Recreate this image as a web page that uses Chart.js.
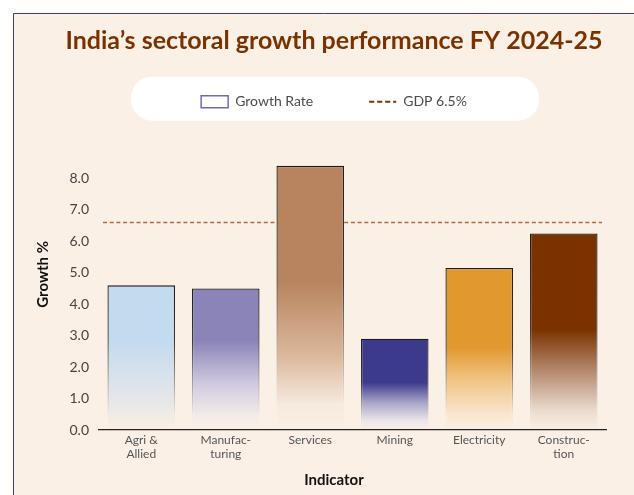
<!DOCTYPE html>
<html>
<head>
<meta charset="utf-8">
<title>India's sectoral growth performance FY 2024-25</title>
<script src="https://cdn.jsdelivr.net/npm/chart.js@4.4.1/dist/chart.umd.min.js"></script>
<style>
  html, body { margin: 0; padding: 0; background: #ffffff; }
  #wrap { width: 634px; height: 495px; }
</style>
</head>
<body>
<div id="wrap"><canvas id="sectorChart" width="634" height="495"></canvas></div>
<script>
// Veriler
const sectors = [['Agri &', 'Allied'], ['Manufac-', 'turing'], 'Services', 'Mining', 'Electricity', ['Construc-', 'tion']];
const growthRate = [4.6, 4.5, 8.4, 2.9, 5.15, 6.25];
const gdpGrowth = 6.6;
const yTicks = [0, 1, 2, 3, 4, 5, 6, 7, 8];
const titleText = 'India’s sectoral growth performance FY 2024-25';
const legendLabels = ['Growth Rate', 'GDP 6.5%'];

// Renkler
const PANEL_BG = '#fbf0e5';
const FONT = 'Lato, "Open Sans", sans-serif';
const barShades = [
    { solid: '#c4daef', fadeAt: 0.38, mid: '#e3e6ea', midAt: 0.76, pale: '#efebe6' },
    { solid: '#8b84b9', fadeAt: 0.37, mid: '#d2cbe0', midAt: 0.68, pale: '#f3ece9' },
    { solid: '#b8845f', fadeAt: 0.44, mid: '#dbb89c', midAt: 0.72, pale: '#f6e9de' },
    { solid: '#3c3b8b', fadeAt: 0.48, mid: '#a9a5c9', midAt: 0.7, pale: '#ece6ea' },
    { solid: '#e1982f', fadeAt: 0.49, mid: '#f0c27f', midAt: 0.68, pale: '#f9e6ce' },
    { solid: '#7a3300', fadeAt: 0.49, mid: '#a87556', midAt: 0.65, pale: '#eadbcd' }
];

// Çubuk dolgusu: üstte düz renk, tabana doğru solar
function barFill(context) {
    const shade = barShades[context.dataIndex];
    const chart = context.chart;
    const yScale = chart.scales.y;
    if (!chart.chartArea || !yScale || !context.parsed) return shade.solid;
    const top = yScale.getPixelForValue(context.parsed.y);
    const base = yScale.getPixelForValue(0);
    const g = chart.ctx.createLinearGradient(0, top, 0, base);
    g.addColorStop(0, shade.solid);
    g.addColorStop(shade.fadeAt, shade.solid);
    g.addColorStop(shade.midAt, shade.mid);
    g.addColorStop(0.9, shade.pale);
    g.addColorStop(1, PANEL_BG);
    return g;
}

function barEdge(context) {
    const shade = barShades[context.dataIndex];
    const chart = context.chart;
    const yScale = chart.scales.y;
    if (!chart.chartArea || !yScale || !context.parsed) return '#222';
    const top = yScale.getPixelForValue(context.parsed.y);
    const base = yScale.getPixelForValue(0);
    const g = chart.ctx.createLinearGradient(0, top, 0, base);
    g.addColorStop(0, '#1c1c1c');
    g.addColorStop(shade.fadeAt, '#3a3a3a');
    g.addColorStop(0.9, shade.pale);
    g.addColorStop(1, PANEL_BG);
    return g;
}

// Arka plan paneli ve lejant kutusu
const panelPlugin = {
    id: 'panel',
    beforeDraw(chart) {
        const { ctx, width, height } = chart;
        ctx.save();
        ctx.fillStyle = '#ffffff';
        ctx.fillRect(0, 0, width, height);
        ctx.fillStyle = PANEL_BG;
        ctx.fillRect(13, 13, width - 13, height - 13);
        ctx.strokeStyle = '#3d3d8e';
        ctx.lineWidth = 1;
        ctx.beginPath();
        ctx.moveTo(13.5, height);
        ctx.lineTo(13.5, 13.5);
        ctx.lineTo(width, 13.5);
        ctx.stroke();

        const boxes = chart.legend && chart.legend.legendHitBoxes;
        if (boxes && boxes.length) {
            const first = boxes[0];
            const last = boxes[boxes.length - 1];
            const x0 = first.left - 70;
            const x1 = last.left + last.width + 72;
            const y0 = first.top - 18;
            const y1 = first.top + first.height + 12;
            ctx.fillStyle = '#ffffff';
            ctx.beginPath();
            ctx.roundRect(x0, y0, x1 - x0, y1 - y0, 21);
            ctx.fill();
        }
        ctx.restore();
    }
};

const ctx = document.getElementById('sectorChart');
new Chart(ctx, {
    type: 'bar',
    data: {
        labels: sectors,
        datasets: [
            {
                label: legendLabels[0],
                data: growthRate,
                backgroundColor: barFill,
                borderColor: barEdge,
                borderWidth: { top: 1.3, left: 1.3, right: 1.3, bottom: 0 },
                borderSkipped: 'start',
                grouped: false,
                barPercentage: 0.8,
                categoryPercentage: 1,
                order: 1
            },
            {
                type: 'line',
                label: legendLabels[1],
                data: [{ x: 0, y: gdpGrowth }, { x: 1, y: gdpGrowth }],
                xAxisID: 'xLine',
                borderColor: '#b2693d',
                borderWidth: 1.6,
                borderDash: [4, 2.7],
                pointRadius: 0,
                fill: false,
                order: 2
            }
        ]
    },
    options: {
        responsive: false,
        animation: false,
        layout: { padding: { left: 34, right: 0, top: 0, bottom: 0 } },
        plugins: {
            title: {
                display: true,
                text: titleText,
                color: '#7a3300',
                font: { family: FONT, size: 25, weight: 'bold', lineHeight: 1.2 },
                padding: { top: 26, bottom: -17.3 }
            },
            subtitle: {
                display: true,
                position: 'bottom',
                text: 'Indicator',
                color: '#111111',
                font: { family: FONT, size: 15, weight: 'bold', lineHeight: 1.2 },
                padding: { top: 10, bottom: 6 }
            },
            legend: {
                position: 'top',
                onClick: null,
                labels: {
                    usePointStyle: true,
                    pointStyleWidth: 27,
                    boxHeight: 12,
                    padding: 56,
                    color: '#4a4a4a',
                    font: { family: FONT, size: 14 },
                    generateLabels: () => [
                        { text: legendLabels[0], fillStyle: '#ffffff', strokeStyle: '#6e6ab5', lineWidth: 1.5, pointStyle: 'rect', fontColor: '#4a4a4a', datasetIndex: 0 },
                        { text: legendLabels[1], fillStyle: '#7a3300', strokeStyle: '#7a3300', lineWidth: 2, lineDash: [5, 3], pointStyle: 'line', fontColor: '#4a4a4a', datasetIndex: 1 }
                    ]
                }
            },
            tooltip: { enabled: false }
        },
        scales: {
            x: {
                type: 'category',
                grid: { display: false, drawTicks: false },
                border: { display: true, color: '#222222', width: 1.3, z: 1 },
                ticks: {
                    color: '#555555',
                    padding: 4,
                    maxRotation: 0,
                    autoSkip: false,
                    font: { family: FONT, size: 12, lineHeight: 1.1 }
                },
                afterFit: (scale) => {
                    scale.paddingRight = 28;
                    scale.height = 31;
                }
            },
            xLine: {
                type: 'linear',
                display: false,
                offset: false,
                min: -0.008,
                max: 1.008
            },
            y: {
                min: 0,
                max: 9.9,
                grid: { display: false, drawTicks: false },
                border: { display: false },
                afterBuildTicks: (scale) => {
                    scale.ticks = yTicks.map(v => ({ value: v }));
                },
                ticks: {
                    color: '#444444',
                    padding: 10,
                    font: { family: FONT, size: 14 },
                    callback: (value) => Number(value).toFixed(1)
                },
                title: {
                    display: true,
                    text: 'Growth %',
                    color: '#111111',
                    font: { family: FONT, size: 15, weight: 'bold', lineHeight: 1.2 },
                    padding: { top: 0, bottom: 19 }
                },
                afterFit: (scale) => {
                    scale.width = 65;
                }
            }
        }
    },
    plugins: [panelPlugin]
});
</script>
</body>
</html>
